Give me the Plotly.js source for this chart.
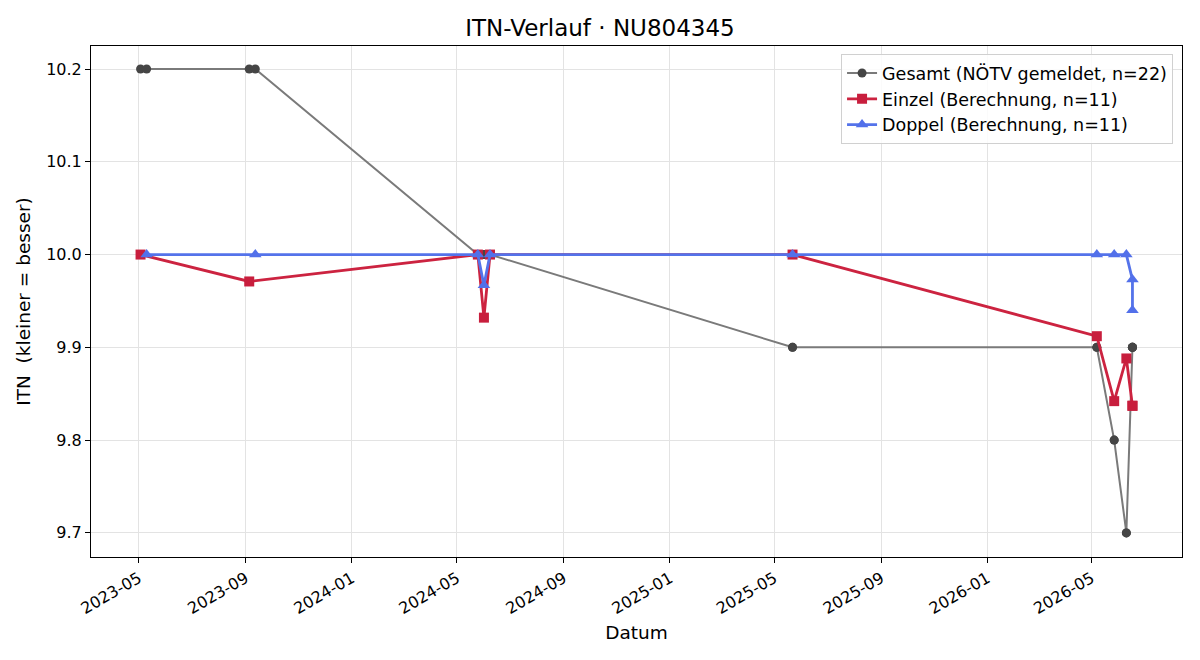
<!DOCTYPE html>
<html><head><meta charset="utf-8">
<script src="https://cdn.plot.ly/plotly-3.0.1.min.js"></script>
<style>body{margin:0;background:#fff}#c{width:1200px;height:660px}</style>
</head><body><div id="c"></div>
<script>
const gesamtDates = ["2023-05-03","2023-05-10","2023-09-05","2023-09-12","2024-05-25","2024-05-25","2024-06-01","2024-06-01","2024-06-08","2024-06-08","2025-05-22","2025-05-22","2026-05-07","2026-05-07","2026-05-27","2026-05-27","2026-06-10","2026-06-10","2026-06-17","2026-06-17","2026-06-17","2026-06-17"];
const gesamtITN = [10.2,10.2,10.2,10.2,10.0,10.0,10.0,10.0,10.0,10.0,9.9,9.9,9.9,9.9,9.8,9.8,9.7,9.7,9.9,9.9,9.9,9.9];
const einzelDates = ["2023-05-03","2023-09-05","2024-05-25","2024-06-01","2024-06-08","2025-05-22","2026-05-07","2026-05-27","2026-06-10","2026-06-17","2026-06-17"];
const einzelITN = [10.0,9.971,10.0,9.932,10.0,10.0,9.912,9.842,9.888,9.837,9.837];
const doppelDates = ["2023-05-10","2023-09-12","2024-05-25","2024-06-01","2024-06-08","2025-05-22","2026-05-07","2026-05-27","2026-06-10","2026-06-17","2026-06-17"];
const doppelITN = [10.0,10.0,10.0,9.967,10.0,10.0,10.0,10.0,10.0,9.973,9.940];

const font = "DejaVu Sans, sans-serif";
const traces = [
  {x: gesamtDates, y: gesamtITN, mode: "lines+markers", name: "Gesamt (NÖTV gemeldet, n=22)",
   line: {color: "#7a7a7a", width: 2}, marker: {symbol: "circle", size: 9, color: "#454545", opacity: 1}},
  {x: einzelDates, y: einzelITN, mode: "lines+markers", name: "Einzel (Berechnung, n=11)",
   line: {color: "#cc2340", width: 2.8}, marker: {symbol: "square", size: 10, color: "#c81e3d"}},
  {x: doppelDates, y: doppelITN, mode: "lines+markers", name: "Doppel (Berechnung, n=11)",
   line: {color: "#5473ea", width: 2.8}, marker: {symbol: "triangle-up", size: 11, color: "#5270ea"}}
];
const layout = {
  width: 1200, height: 660,
  margin: {l: 91, r: 18, t: 46, b: 103},
  paper_bgcolor: "#fff", plot_bgcolor: "#fff",
  font: {family: font, size: 16, color: "#000"},
  title: {text: "ITN-Verlauf · NU804345", x: 0.5, xanchor: "center", y: 0.957, yanchor: "middle", font: {size: 23, family: font}},
  xaxis: {type: "date", range: ["2023-03-07","2026-08-13"], tick0: "2023-01-01", dtick: "M4", tickformat: "%Y-%m",
    tickangle: -30, ticks: "outside", ticklen: 5, tickcolor: "#000", showgrid: true, gridcolor: "#e3e3e3",
    showline: true, linecolor: "#000", mirror: true, zeroline: false,
    tickfont: {size: 16}, title: {text: "Datum", font: {size: 18.5}, standoff: 9}},
  yaxis: {range: [9.674, 10.2248], dtick: 0.1, tick0: 9.7, tickformat: ".1f", ticks: "outside", ticklen: 5, tickcolor: "#000",
    showgrid: true, gridcolor: "#e3e3e3", showline: true, linecolor: "#000", mirror: true, zeroline: false,
    tickfont: {size: 16}, title: {text: "ITN  (kleiner = besser)", font: {size: 18.5}, standoff: 10}},
  legend: {x: 0.9918, y: 0.984, xanchor: "right", yanchor: "top", bgcolor: "rgba(255,255,255,0.85)",
    bordercolor: "#d0d0d0", borderwidth: 1, font: {size: 17.5}, tracegroupgap: 2},
  showlegend: true
};
Plotly.newPlot("c", traces, layout, {displayModeBar: false, staticPlot: true});
</script>
</body></html>
